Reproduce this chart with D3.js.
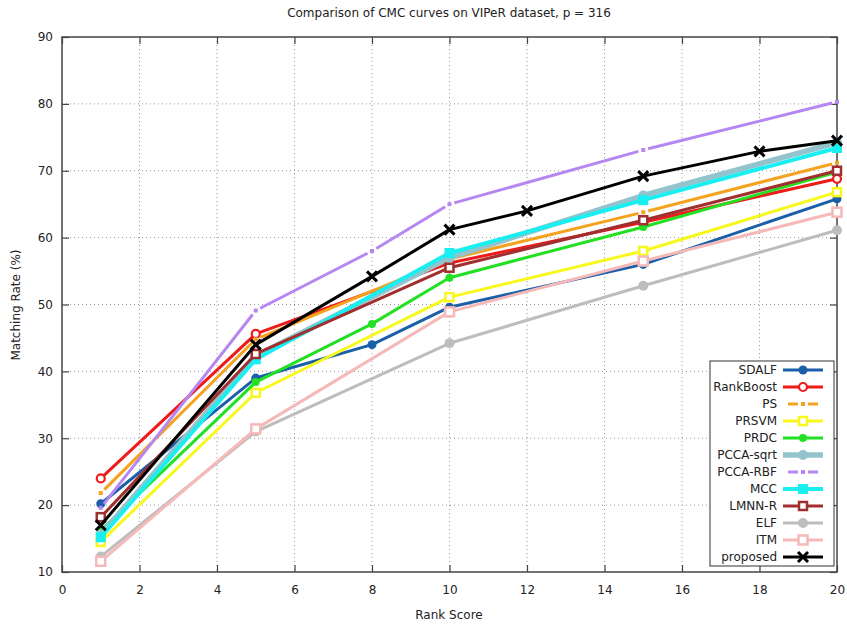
<!DOCTYPE html>
<html>
<head>
<meta charset="utf-8">
<script src="https://cdn.jsdelivr.net/npm/d3@7"></script>
<style>
  body { margin: 0; background: #fff; }
  text { font-family: "DejaVu Sans", sans-serif; font-size: 12px; fill: #222; }
</style>
</head>
<body>
<svg id="chart" width="847" height="627"></svg>
<script>
// data
var ranksA = [1, 5, 10, 15, 20];
var ranksB = [1, 5, 8, 10, 15, 20];
var ranksP = [1, 5, 8, 10, 12, 15, 18, 20];

var sdalf     = [20.2, 39.0, 44.0, 49.6, 56.0, 65.8];
var rankBoost = [24.0, 45.6, 56.2, 62.3, 68.8];
var ps        = [21.8, 44.8, 56.8, 63.8, 71.2];
var prsvm     = [14.5, 36.8, 51.1, 58.0, 66.8];
var prdc      = [16.2, 38.4, 47.1, 54.0, 61.6, 69.8];
var pccaSqrt  = [15.6, 42.3, 57.0, 66.3, 74.2];
var pccaRbf   = [19.6, 49.1, 58.0, 65.0, 73.1, 80.3];
var mcc       = [15.2, 41.8, 57.7, 65.6, 73.4];
var lmnnR     = [18.2, 42.6, 55.5, 62.6, 70.0];
var elf       = [12.3, 31.0, 44.2, 52.8, 61.1];
var itm       = [11.6, 31.4, 48.9, 56.5, 63.8];
var proposed  = [17.0, 44.0, 54.2, 61.2, 64.0, 69.2, 72.9, 74.5];

var xTicks = [0, 2, 4, 6, 8, 10, 12, 14, 16, 18, 20];
var yTicks = [10, 20, 30, 40, 50, 60, 70, 80, 90];

// gap: line is broken around each point (gnuplot style)
var series = [
  { name: 'SDALF',     x: ranksB, y: sdalf,     color: '#1a5fa8', width: 3,   gap: 0, marker: 'circle', size: 4.5 },
  { name: 'RankBoost', x: ranksA, y: rankBoost, color: '#ee1b1b', width: 3,   gap: 0, marker: 'ocircle', size: 4 },
  { name: 'PS',        x: ranksA, y: ps,        color: '#f5a21f', width: 3,   gap: 5, marker: 'dot', size: 2 },
  { name: 'PRSVM',     x: ranksA, y: prsvm,     color: '#f8f81c', width: 3,   gap: 0, marker: 'osquare', size: 4 },
  { name: 'PRDC',      x: ranksB, y: prdc,      color: '#22e022', width: 3,   gap: 0, marker: 'circle', size: 4 },
  { name: 'PCCA-sqrt', x: ranksA, y: pccaSqrt,  color: '#93c4cd', width: 5.5, gap: 0, marker: 'circle', size: 5 },
  { name: 'PCCA-RBF',  x: ranksB, y: pccaRbf,   color: '#b687f0', width: 3,   gap: 5, marker: 'dot', size: 2 },
  { name: 'MCC',       x: ranksA, y: mcc,       color: '#19eef0', width: 4,   gap: 0, marker: 'square', size: 5 },
  { name: 'LMNN-R',    x: ranksA, y: lmnnR,     color: '#a12f2f', width: 3,   gap: 0, marker: 'osquare', size: 4 },
  { name: 'ELF',       x: ranksA, y: elf,       color: '#bdbdbd', width: 3,   gap: 0, marker: 'circle', size: 5 },
  { name: 'ITM',       x: ranksA, y: itm,       color: '#f6b9b9', width: 3,   gap: 0, marker: 'osquare', size: 4.5 },
  { name: 'proposed',  x: ranksP, y: proposed,  color: '#000000', width: 3,   gap: 0, marker: 'cross', size: 5 }
];

var plotLeft = 62, plotTop = 37, plotRight = 837, plotBottom = 572;

var svg = d3.select('#chart');

var x = d3.scaleLinear().domain([0, 20]).range([plotLeft, plotRight]);
var y = d3.scaleLinear().domain([10, 90]).range([plotBottom, plotTop]);

// grid
var grid = svg.append('g').attr('stroke', '#999').attr('stroke-width', 1).attr('stroke-dasharray', '1,3');
grid.selectAll('.gx').data(xTicks.slice(1, -1)).enter().append('line')
  .attr('x1', function (d) { return x(d); }).attr('x2', function (d) { return x(d); })
  .attr('y1', plotTop).attr('y2', plotBottom);
grid.selectAll('.gy').data(yTicks.slice(1, -1)).enter().append('line')
  .attr('y1', function (d) { return y(d); }).attr('y2', function (d) { return y(d); })
  .attr('x1', plotLeft).attr('x2', plotRight);

// axes with inward ticks on all four sides
var axisStyle = function (g) {
  g.select('.domain').remove();
  g.selectAll('.tick line').attr('stroke', '#444').attr('stroke-width', 1.2);
  g.selectAll('.tick text').style('font-family', '"DejaVu Sans", sans-serif').style('font-size', '12px').attr('fill', '#222');
};
svg.append('g').attr('transform', 'translate(0,' + plotBottom + ')')
  .call(d3.axisBottom(x).tickValues(xTicks).tickSizeInner(-7).tickPadding(13))
  .call(axisStyle);
svg.append('g').attr('transform', 'translate(0,' + plotTop + ')')
  .call(d3.axisTop(x).tickValues(xTicks).tickSizeInner(-7).tickFormat(''))
  .call(axisStyle);
svg.append('g').attr('transform', 'translate(' + plotLeft + ',0)')
  .call(d3.axisLeft(y).tickValues(yTicks).tickSizeInner(-7).tickPadding(9))
  .call(axisStyle);
svg.append('g').attr('transform', 'translate(' + plotRight + ',0)')
  .call(d3.axisRight(y).tickValues(yTicks).tickSizeInner(-7).tickFormat(''))
  .call(axisStyle);

svg.append('rect').attr('x', plotLeft).attr('y', plotTop)
  .attr('width', plotRight - plotLeft).attr('height', plotBottom - plotTop)
  .attr('fill', 'none').attr('stroke', '#444').attr('stroke-width', 1.5);

// markers
function drawMarker(g, s, cx, cy) {
  var r = s.size;
  if (s.marker === 'circle') {
    g.append('circle').attr('cx', cx).attr('cy', cy).attr('r', r).attr('fill', s.color);
  } else if (s.marker === 'ocircle') {
    g.append('circle').attr('cx', cx).attr('cy', cy).attr('r', r).attr('fill', '#fff')
      .attr('stroke', s.color).attr('stroke-width', 2.2);
  } else if (s.marker === 'dot' || s.marker === 'square') {
    g.append('rect').attr('x', cx - r).attr('y', cy - r).attr('width', 2 * r).attr('height', 2 * r).attr('fill', s.color);
  } else if (s.marker === 'osquare') {
    g.append('rect').attr('x', cx - r).attr('y', cy - r).attr('width', 2 * r).attr('height', 2 * r).attr('fill', '#fff')
      .attr('stroke', s.color).attr('stroke-width', 2.5);
  } else if (s.marker === 'cross') {
    g.append('path').attr('d', 'M' + (cx - r) + ',' + (cy - r) + 'L' + (cx + r) + ',' + (cy + r) +
      'M' + (cx - r) + ',' + (cy + r) + 'L' + (cx + r) + ',' + (cy - r))
      .attr('stroke', s.color).attr('stroke-width', 3).attr('fill', 'none');
  }
}

// path through pixel points, broken by `gap` px around each point
function gappedPath(px, gap) {
  if (!gap) return d3.line()(px);
  var d = '';
  for (var i = 0; i < px.length - 1; i++) {
    var a = px[i], b = px[i + 1];
    var dx = b[0] - a[0], dy = b[1] - a[1], len = Math.sqrt(dx * dx + dy * dy);
    var ux = dx / len, uy = dy / len;
    d += 'M' + (a[0] + ux * gap) + ',' + (a[1] + uy * gap) + 'L' + (b[0] - ux * gap) + ',' + (b[1] - uy * gap);
  }
  return d;
}

series.forEach(function (s) {
  var px = s.x.map(function (r, i) { return [x(r), y(s.y[i])]; });
  var g = svg.append('g');
  g.append('path').attr('d', gappedPath(px, s.gap)).attr('fill', 'none')
    .attr('stroke', s.color).attr('stroke-width', s.width)
    .attr('stroke-linejoin', 'round');
  px.forEach(function (p) { drawMarker(g, s, p[0], p[1]); });
});

// legend
var legend = svg.append('g');
legend.append('rect').attr('x', 710).attr('y', 361).attr('width', 124).attr('height', 205)
  .attr('fill', '#fff').attr('stroke', '#333').attr('stroke-width', 1);
series.forEach(function (s, i) {
  var ly = 370 + i * 17;
  legend.append('text').attr('x', 777).attr('y', ly).attr('dy', '0.35em').attr('text-anchor', 'end').text(s.name);
  legend.append('path').attr('d', gappedPath([[783, ly], [803, ly], [823, ly]], s.gap))
    .attr('stroke', s.color).attr('stroke-width', s.width).attr('fill', 'none');
  drawMarker(legend, s, 803, ly);
});

// titles
svg.append('text').attr('x', 449).attr('y', 17).attr('text-anchor', 'middle')
  .text('Comparison of CMC curves on VIPeR dataset, p = 316');
svg.append('text').attr('x', 449).attr('y', 619).attr('text-anchor', 'middle').text('Rank Score');
svg.append('text').attr('transform', 'translate(20,305) rotate(-90)').attr('text-anchor', 'middle')
  .text('Matching Rate (%)');
</script>
</body>
</html>
